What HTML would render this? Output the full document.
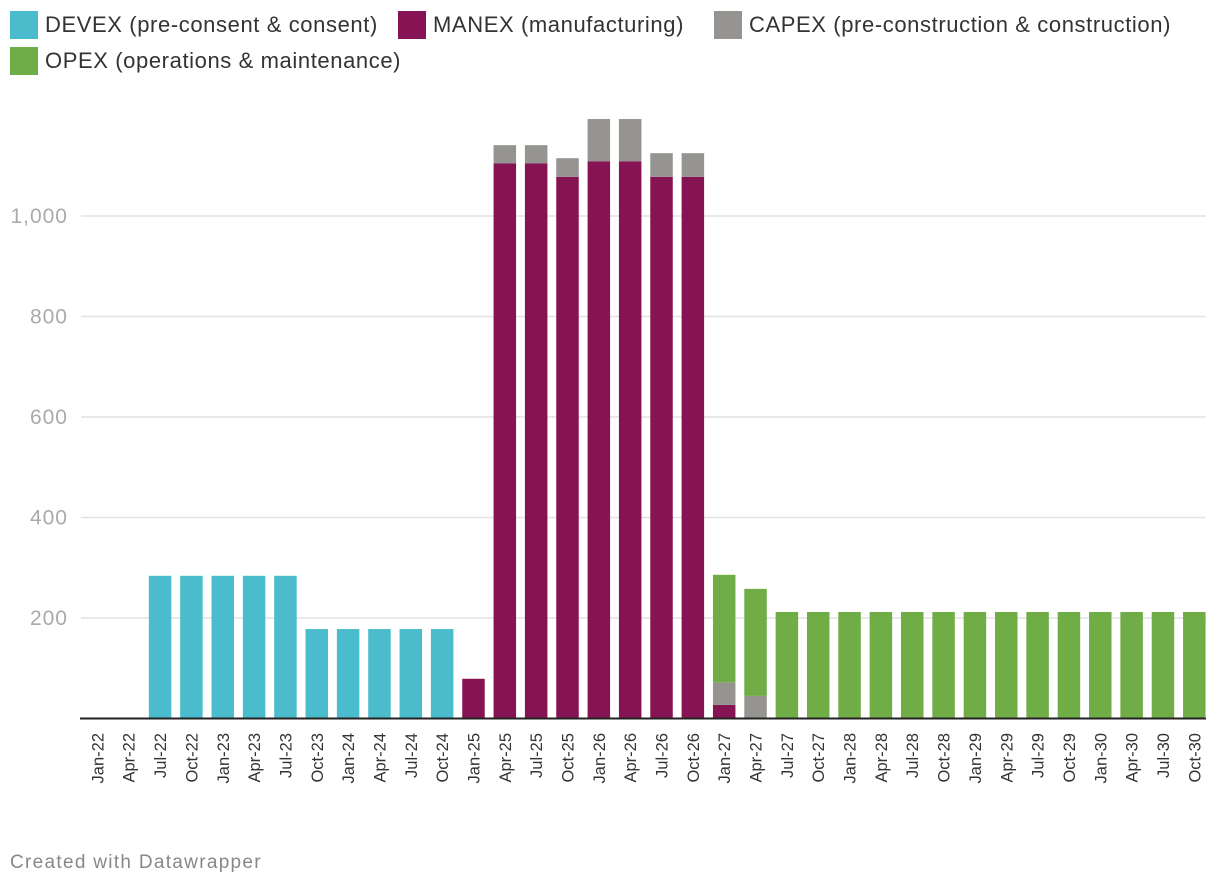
<!DOCTYPE html>
<html><head><meta charset="utf-8"><style>
body{margin:0;background:#fff;width:1220px;height:888px;overflow:hidden;font-family:"Liberation Sans",Arial,sans-serif}
.leg{position:absolute;font-size:22px;letter-spacing:0.6px;color:#333;display:flex;align-items:center}
.sw{width:28px;height:28px;margin-right:7px}
</style></head><body>
<div class="leg" style="left:10px;top:11px"><div class="sw" style="background:#4bbccc"></div>DEVEX (pre-consent &amp; consent)</div>
<div class="leg" style="left:398px;top:11px"><div class="sw" style="background:#861454"></div>MANEX (manufacturing)</div>
<div class="leg" style="left:714px;top:11px"><div class="sw" style="background:#959490"></div>CAPEX (pre-construction &amp; construction)</div>
<div class="leg" style="left:10px;top:47px"><div class="sw" style="background:#70ad47"></div>OPEX (operations &amp; maintenance)</div>
<svg id="chart" width="1220" height="888" style="position:absolute;left:0;top:0"></svg>
<div style="position:absolute;left:10px;top:852px;font-size:19px;letter-spacing:1.3px;color:#888">Created with Datawrapper</div>
<script>
const categories=["Jan-22","Apr-22","Jul-22","Oct-22","Jan-23","Apr-23","Jul-23","Oct-23","Jan-24","Apr-24","Jul-24","Oct-24","Jan-25","Apr-25","Jul-25","Oct-25","Jan-26","Apr-26","Jul-26","Oct-26","Jan-27","Apr-27","Jul-27","Oct-27","Jan-28","Apr-28","Jul-28","Oct-28","Jan-29","Apr-29","Jul-29","Oct-29","Jan-30","Apr-30","Jul-30","Oct-30"];
const devex=[0,0,284,284,284,284,284,178,178,178,178,178,0,0,0,0,0,0,0,0,0,0,0,0,0,0,0,0,0,0,0,0,0,0,0,0];
const manex=[0,0,0,0,0,0,0,0,0,0,0,0,79,1105,1105,1078,1109,1109,1078,1078,27,0,0,0,0,0,0,0,0,0,0,0,0,0,0,0];
const capex=[0,0,0,0,0,0,0,0,0,0,0,0,0,36,36,37,84,84,47,47,45,45,0,0,0,0,0,0,0,0,0,0,0,0,0,0];
const opex=[0,0,0,0,0,0,0,0,0,0,0,0,0,0,0,0,0,0,0,0,214,213,212,212,212,212,212,212,212,212,212,212,212,212,212,212];
const yTicks=[200,400,600,800,1000];
const seriesList=[["devex",devex,"#4bbccc"],["manex",manex,"#861454"],["capex",capex,"#959490"],["opex",opex,"#70ad47"]];
const NS="http://www.w3.org/2000/svg",svg=document.getElementById("chart");
const y=v=>718.5-v*0.5025;
const x=i=>97.4+i*31.34;
const bw=22.5;
function mk(t,a){const e=document.createElementNS(NS,t);for(const k in a)e.setAttribute(k,a[k]);svg.appendChild(e);return e;}
yTicks.forEach(v=>{
 const l=mk("line",{x1:81,x2:1206,y1:y(v),y2:y(v),stroke:"#e2e2e2","stroke-width":1.5});
 
 
 const t=mk("text",{x:68,y:y(v)+7,"text-anchor":"end","font-size":21,"letter-spacing":1,fill:"#aaa","font-family":"Liberation Sans, sans-serif"});
 t.textContent=v.toLocaleString("en-US");
 
 
});
categories.forEach((c,i)=>{
 let base=0;
 seriesList.forEach(([n,arr,col])=>{
  const v=arr[i];if(v<=0)return;
  const r=mk("rect",{x:x(i)-bw/2,y:y(base+v),width:bw,height:y(base)-y(base+v),fill:col});
  
  
  base+=v;
 });
 const t=mk("text",{transform:`translate(${x(i)+6},733) rotate(-90)`,"text-anchor":"end","font-size":16.5,fill:"#333","font-family":"Liberation Sans, sans-serif"});
 t.textContent=c;
 
 
});
const b=mk("line",{x1:80,x2:1206,y1:718.5,y2:718.5,stroke:"#222","stroke-width":2});


</script>
</body></html>
